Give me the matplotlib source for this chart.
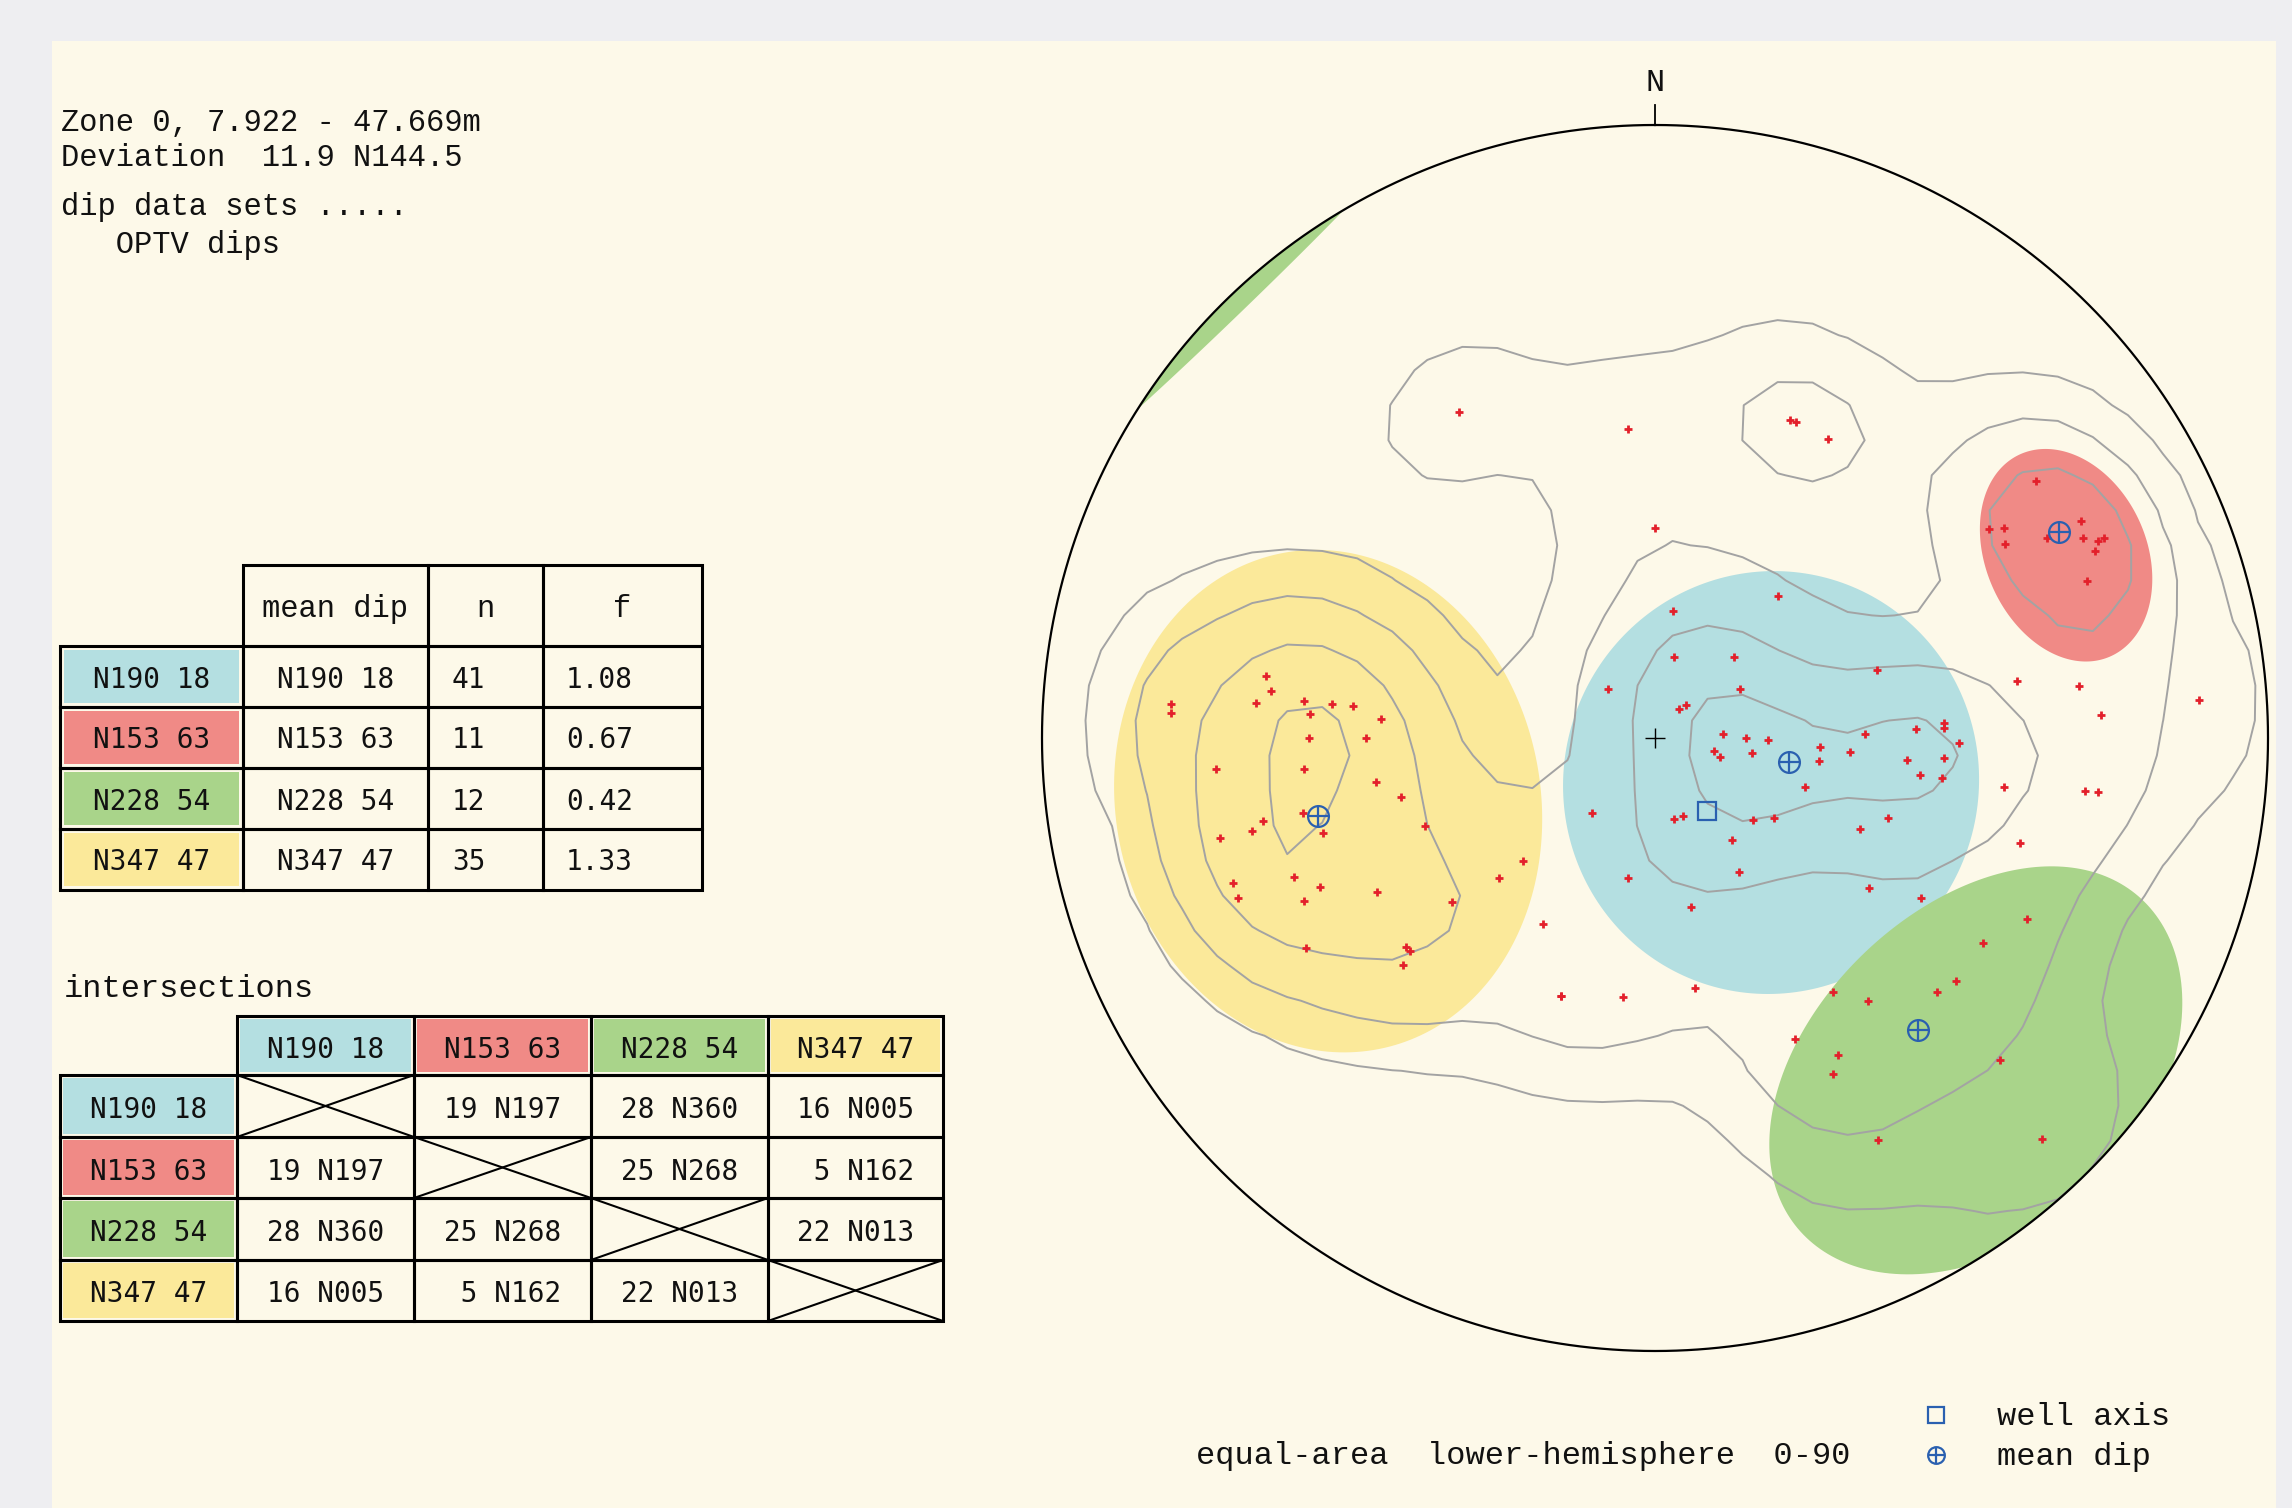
import numpy as np
import matplotlib
matplotlib.use("Agg")
import matplotlib.pyplot as plt
from matplotlib.patches import Rectangle, Circle, Polygon

W, H, DPI = 2292, 1508, 100

# ---- zone / well ----
zone_top, zone_base = 7.922, 47.669
well_dev, well_az = 11.9, 144.5

# ---- dip sets: strike (right hand rule) / dip ----
set_strike = [190, 153, 228, 347]
set_dip = [18, 63, 54, 47]
set_n = [41, 11, 12, 35]
set_f = [1.08, 0.67, 0.42, 1.33]
set_colors = ["#b4dfe1", "#f08a86", "#a9d48a", "#fbe99a"]

# confidence cones: axis strike / dip and half angle
cone_strike = [201, 156, 226, 349]
cone_dip = [17, 63, 67, 47]
cone_deg = [28, 12.5, 26.5, 31]

# intersections between sets: plunge / trend
int_plunge = [[None, 19, 28, 16], [19, None, 25, 5], [28, 25, None, 22], [16, 5, 22, None]]
int_trend = [[None, 197, 360, 5], [197, None, 268, 162], [360, 268, None, 13], [5, 162, 13, None]]

# individual OPTV dips: strike / dip
pole_strike = [
    59, 85, 90, 9, 7, 4, 3, 5, 6, 6, 6, 4, 4, 0, 0, 356, 355, 351, 347, 348,
    348, 347, 344, 339, 347, 317, 339, 318, 281, 341, 336, 331, 339, 335, 321, 46, 310, 301, 329, 320,
    319, 318, 290, 290, 277, 113, 114, 120, 146, 148, 149, 151, 153, 153, 155, 156, 156, 157, 160, 171,
    173, 177, 176, 188, 187, 187, 196, 131, 98, 103, 134, 163, 150, 130, 133, 177, 180, 181, 192, 189,
    196, 179, 183, 188, 184, 178, 177, 178, 181, 185, 184, 188, 188, 198, 257, 250, 220, 214, 199, 204,
    233, 238, 215, 258, 211, 206, 261, 212, 219, 222, 235, 231, 245, 240, 242, 223, 241, 226,
]
pole_dip = [
    52, 42, 28, 54, 53, 68, 68, 55, 48, 44, 41, 47, 37, 47, 39, 61, 48, 38, 35, 49,
    55, 57, 47, 33, 62, 24, 53, 28, 19, 62, 50, 43, 62, 53, 35, 9, 13, 29, 56, 44,
    44, 46, 37, 37, 35, 47, 47, 47, 64, 54, 56, 55, 61, 67, 66, 68, 69, 67, 64, 50,
    59, 62, 78, 48, 60, 62, 52, 25, 17, 11, 15, 31, 13, 5, 6, 9, 12, 15, 8, 13,
    9, 28, 22, 22, 26, 35, 39, 39, 41, 34, 39, 36, 39, 21, 11, 11, 17, 19, 33, 30,
    17, 21, 35, 23, 42, 57, 34, 53, 53, 52, 42, 46, 45, 50, 52, 66, 64, 80,
]

# density kernel concentration and contour levels
kappa = 55.0
density_levels = [0.5, 2.0, 5.0, 9.0]

INK = "#111111"
BLUE = "#2a60b0"
RED = "#e3202b"
GREY = "#a3a3a3"
TEXT_FONT = ["Liberation Mono", "DejaVu Sans Mono"]
CELL_FONT = ["DejaVu Sans Mono"]

# stereonet placement on the page
CX, CY, R = 1655.0, 738.0, 613.0


def vec(trend, theta):
    t, a = np.radians(trend), np.radians(theta)
    return np.stack([np.sin(a) * np.sin(t), np.sin(a) * np.cos(t), np.cos(a)], axis=-1)


def project(v):
    z = np.clip(v[..., 2], -1, 1)
    r = np.sqrt(2) * np.sin(np.arccos(z) / 2)
    az = np.arctan2(v[..., 0], v[..., 1])
    return r * np.sin(az), r * np.cos(az)


def small_circle(axis, half_angle, n=240):
    a = axis / np.linalg.norm(axis)
    u = np.cross(a, [0.0, 0.0, 1.0])
    if np.linalg.norm(u) < 1e-6:
        u = np.array([1.0, 0.0, 0.0])
    u /= np.linalg.norm(u)
    w = np.cross(a, u)
    t = np.linspace(0, 2 * np.pi, n)[:, None]
    h = np.radians(half_angle)
    return np.cos(h) * a + np.sin(h) * (np.cos(t) * u + np.sin(t) * w)


fig = plt.figure(figsize=(W / DPI, H / DPI), dpi=DPI)
fig.patch.set_facecolor("#eeeef1")
ax = fig.add_axes([0, 0, 1, 1])
ax.set_xlim(0, W)
ax.set_ylim(H, 0)
ax.axis("off")
ax.add_patch(Rectangle((52, 41), 2276 - 52, H - 41, facecolor="#fdf9e9", edgecolor="none"))


def label(x, y, s, size, ha="left", family=TEXT_FONT, color=INK):
    ax.text(x, y, s, fontsize=size, family=family, ha=ha, va="baseline", color=color)


def box(x0, y0, x1, y1):
    ax.add_patch(Rectangle((x0, y0), x1 - x0, y1 - y0, fill=False, edgecolor="black", linewidth=2.2))


def swatch(x0, y0, x1, y1, color, pad=4):
    ax.add_patch(Rectangle((x0 + pad, y0 + pad), x1 - x0 - 2 * pad, y1 - y0 - 2 * pad,
                           facecolor=color, edgecolor="none"))


# header
label(61, 131, f"Zone 0, {zone_top:.3f} - {zone_base:.3f}m", 22)
label(61, 166, f"Deviation  {well_dev:.1f} N{well_az:.1f}", 22)
label(61, 215, "dip data sets .....", 22)
label(61, 253, "   OPTV dips", 22)

set_labels = [f"N{s:03d} {d:2d}" for s, d in zip(set_strike, set_dip)]

# mean dip table
c1 = [60, 243, 428, 543, 702]
r1 = [646, 707, 768, 829, 890]
for i, name in enumerate(["mean dip", "n", "f"]):
    box(c1[i + 1], 565, c1[i + 2], r1[0])
    label((c1[i + 1] + c1[i + 2]) / 2, 617, name, 22, ha="center")
for k in range(4):
    y0, y1 = r1[k], r1[k + 1]
    base = (y0 + y1) / 2 + 11
    swatch(c1[0], y0, c1[1], y1, set_colors[k])
    for j in range(4):
        box(c1[j], y0, c1[j + 1], y1)
    label((c1[0] + c1[1]) / 2, base, set_labels[k], 20, ha="center", family=CELL_FONT)
    label((c1[1] + c1[2]) / 2, base, set_labels[k], 20, ha="center", family=CELL_FONT)
    label(c1[2] + 24, base, f"{set_n[k]}", 20, family=CELL_FONT)
    label(c1[3] + 23, base, f"{set_f[k]:.2f}", 20, family=CELL_FONT)

# intersections table
label(64, 997, "intersections", 23)
c2 = [60, 237, 414, 591, 768, 943]
r2 = [1075, 1137, 1198, 1260, 1321]
for j in range(4):
    x0, x1 = c2[j + 1], c2[j + 2]
    swatch(x0, 1016, x1, r2[0], set_colors[j], pad=3)
    box(x0, 1016, x1, r2[0])
    label((x0 + x1) / 2, 1058, set_labels[j], 20, ha="center", family=CELL_FONT)
for i in range(4):
    y0, y1 = r2[i], r2[i + 1]
    base = (y0 + y1) / 2 + 12
    swatch(c2[0], y0, c2[1], y1, set_colors[i], pad=3)
    box(c2[0], y0, c2[1], y1)
    label((c2[0] + c2[1]) / 2, base, set_labels[i], 20, ha="center", family=CELL_FONT)
    for j in range(4):
        x0, x1 = c2[j + 1], c2[j + 2]
        box(x0, y0, x1, y1)
        if int_plunge[i][j] is None:
            ax.plot([x0, x1], [y0, y1], color="black", lw=1.5)
            ax.plot([x0, x1], [y1, y0], color="black", lw=1.5)
        else:
            label((x0 + x1) / 2, base, f"{int_plunge[i][j]:2d} N{int_trend[i][j]:03d}", 20,
                  ha="center", family=CELL_FONT)

# ---- stereonet ----
lim = 1.12
axn = fig.add_axes([(CX - lim * R) / W, (H - CY - lim * R) / H, 2 * lim * R / W, 2 * lim * R / H])
axn.set_xlim(-lim, lim)
axn.set_ylim(-lim, lim)
axn.axis("off")

rim = Circle((0, 0), 1.0, transform=axn.transData, facecolor="none", edgecolor="none")
axn.add_patch(rim)

# confidence cones; a cone reaching past the horizontal wraps to the opposite side
for k in range(4):
    ring = small_circle(vec(cone_strike[k] - 90, cone_dip[k]), cone_deg[k])
    sides = [ring, -ring] if (ring[:, 2] < 0).any() else [ring]
    for side in sides:
        px, py = project(side)
        poly = Polygon(np.column_stack([px, py]), closed=True, facecolor=set_colors[k],
                       edgecolor="none", zorder=1)
        axn.add_patch(poly)
        poly.set_clip_path(rim)

# pole density on a coarse grid, contoured
poles = vec(np.array(pole_strike) - 90, np.array(pole_dip))
gx = np.linspace(-1.0, 1.0, 36)
GX, GY = np.meshgrid(gx, gx)
GR = np.minimum(np.hypot(GX, GY), 1.0)
gv = vec(np.degrees(np.arctan2(GX, GY)), np.degrees(2 * np.arcsin(GR / np.sqrt(2))))
density = np.exp(kappa * (np.abs(gv @ poles.T) - 1.0)).sum(axis=-1)
cs = axn.contour(GX, GY, density, levels=density_levels, colors=GREY, linewidths=1.4, zorder=2)
cs.set_clip_path(rim)

# primitive and north mark
t = np.linspace(0, 2 * np.pi, 721)
axn.plot(np.sin(t), np.cos(t), color="black", lw=1.6, zorder=3)
axn.plot([0, 0], [1.0, 1.033], color="black", lw=1.3, zorder=3)
axn.text(0, 1.056, "N", fontsize=23, family=TEXT_FONT, ha="center", va="baseline", color=INK)
axn.plot(0, 0, marker="+", ms=14, mew=1.0, color="black", zorder=4)

# poles
ppx, ppy = project(poles)
axn.plot(ppx, ppy, ls="none", marker="+", ms=6, mew=2.0, color=RED, zorder=5)

# well axis and mean dips
wx, wy = project(vec(well_az, well_dev))
axn.plot(wx, wy, marker="s", ms=13, mfc="none", mec=BLUE, mew=1.6, zorder=6)
mx, my = project(vec(np.array(set_strike) - 90, np.array(set_dip)))
axn.plot(mx, my, ls="none", marker="o", ms=15, mfc="none", mec=BLUE, mew=1.6, zorder=6)
axn.plot(mx, my, ls="none", marker="+", ms=15, mew=1.6, color=BLUE, zorder=6)

# footer and key
label(1196, 1464, "equal-area  lower-hemisphere  0-90", 23)
ax.plot(1936, 1415, marker="s", ms=11, mfc="none", mec=BLUE, mew=1.6)
ax.plot(1936, 1455, marker="o", ms=12, mfc="none", mec=BLUE, mew=1.6)
ax.plot(1936, 1455, marker="+", ms=12, mew=1.6, color=BLUE)
label(1997, 1425, "well axis", 23)
label(1997, 1465, "mean dip", 23)

fig.savefig("out.png", dpi=DPI, facecolor=fig.get_facecolor())
